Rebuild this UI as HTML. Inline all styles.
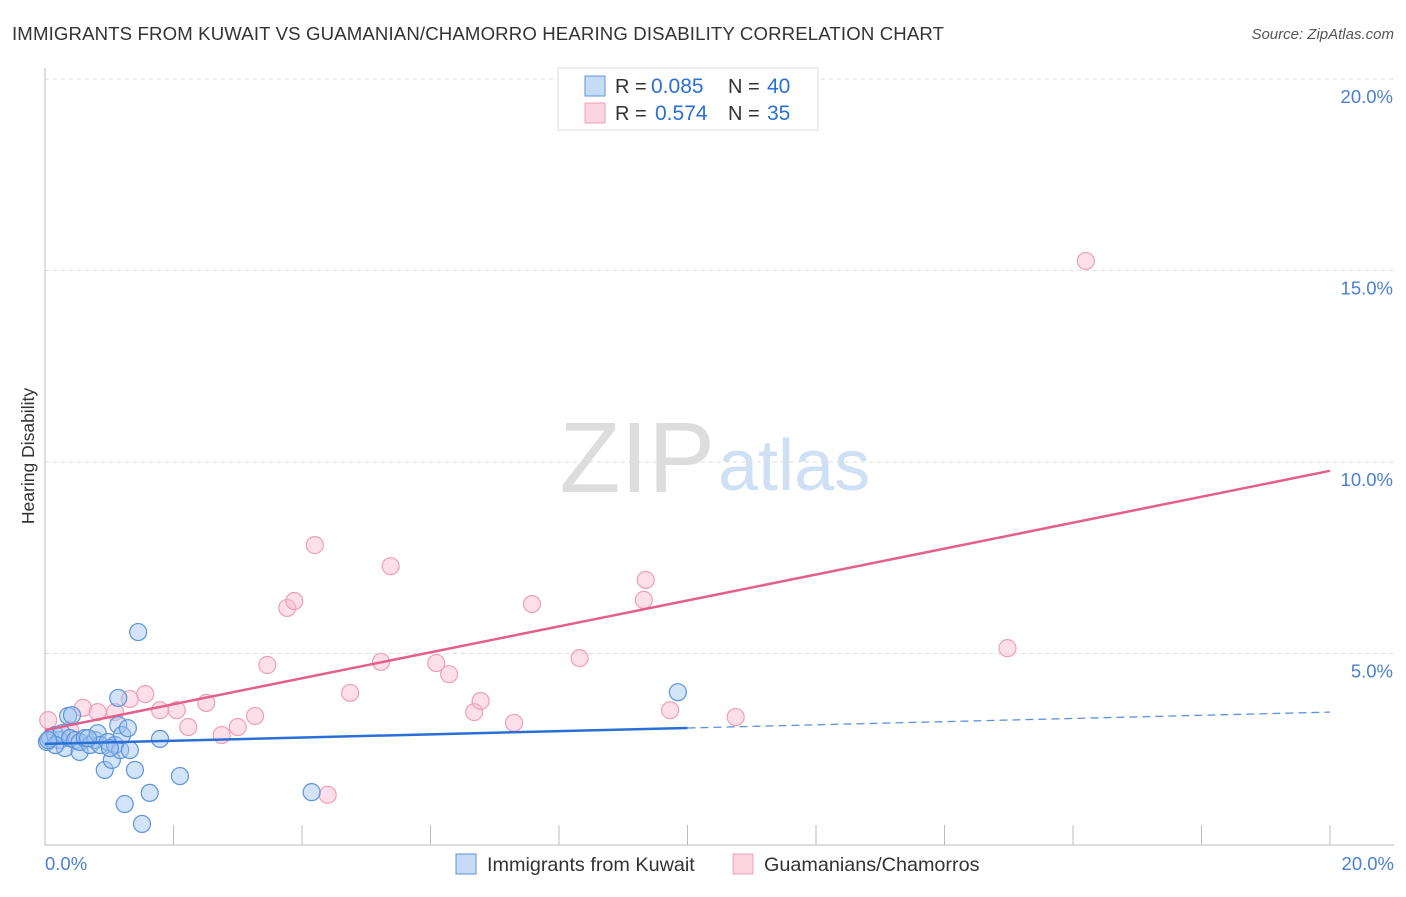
<!DOCTYPE html>
<html><head><meta charset="utf-8"><style>
body{margin:0;background:#fff;font-family:"Liberation Sans",sans-serif;}
svg text{font-family:"Liberation Sans",sans-serif;}
</style></head><body>
<svg id="c" width="1406" height="892"></svg>
<script>
const blueX=[0.03,0.08,0.16,0.23,0.31,0.26,0.36,0.42,0.39,0.47,0.54,0.54,0.62,0.70,0.78,0.82,0.86,0.93,0.98,1.04,1.09,1.14,1.14,1.17,1.20,1.24,1.29,1.32,1.40,1.45,1.51,1.63,1.79,2.10,4.15,9.85,0.16,0.67,1.01,0.05];
const blueY=[2.69,2.79,2.87,2.74,2.53,2.92,3.37,3.39,2.79,2.74,2.43,2.69,2.79,2.61,2.74,2.92,2.61,1.96,2.69,2.22,2.61,3.13,3.84,2.48,2.87,1.07,3.05,2.48,1.96,5.56,0.55,1.36,2.77,1.80,1.38,3.99,2.61,2.79,2.53,2.74];
const pinkX=[0.05,0.39,0.59,0.82,1.09,1.32,1.56,1.79,2.05,2.23,2.51,2.75,3.00,3.27,3.46,3.77,3.88,4.20,4.40,4.75,5.23,5.38,6.09,6.29,6.68,6.78,7.30,7.58,8.32,9.32,9.35,9.73,10.75,14.98,16.20];
const pinkY=[3.26,3.00,3.58,3.47,3.47,3.81,3.94,3.52,3.52,3.08,3.71,2.87,3.08,3.37,4.70,6.19,6.37,7.83,1.31,3.97,4.78,7.28,4.75,4.46,3.47,3.76,3.19,6.29,4.88,6.40,6.92,3.52,3.34,5.14,15.25];
const yTicks=[5,10,15,20];
const blueTrend=[2.64,3.47]; const pinkTrend=[3.0,9.77];
const X=v=>45+v/20*1285, Y=v=>845-v*38.3;
const s=document.getElementById('c');const NS='http://www.w3.org/2000/svg';
function el(t,a,txt){const e=document.createElementNS(NS,t);for(const k in a)e.setAttribute(k,a[k]);if(txt!==undefined)e.textContent=txt;s.appendChild(e);return e;}
let e;
e=el('text',{x:12,y:40,'font-size':18.6,fill:'#333',textLength:932});
e.textContent='IMMIGRANTS FROM KUWAIT VS GUAMANIAN/CHAMORRO HEARING DISABILITY CORRELATION CHART';


e=el('text',{x:1394,y:39,'font-size':15,fill:'#555','font-style':'italic','text-anchor':'end'},'Source: ZipAtlas.com');


e=el('text',{x:715,y:492,'font-size':100,fill:'#ddd','font-family':'Liberation Serif','text-anchor':'end'},'ZIP');


e=el('text',{x:718,y:490,'font-size':72,fill:'#cfe0f5'},'atlas');


yTicks.forEach(t=>{
 e=el('line',{x1:45,x2:1394,y1:Y(t),y2:Y(t),stroke:'#ddd','stroke-dasharray':'4,4'});
 
 
 e=el('text',{x:1393,y:Y(t)+24,'font-size':18.5,fill:'#4a7fd4','text-anchor':'end'},t.toFixed(1)+'%');
 
 
});
e=el('line',{x1:45,x2:45,y1:68,y2:845,stroke:'#bbb'});


e=el('line',{x1:45,x2:1394,y1:845,y2:845,stroke:'#bbb'});


for(let i=0;i<=10;i++){e=el('line',{x1:X(i*2),x2:X(i*2),y1:825,y2:845,stroke:'#bbb'});
 
 }
e=el('text',{x:45,y:870,'font-size':18.5,fill:'#4a7fd4'},'0.0%');


e=el('text',{x:1394,y:870,'font-size':18.5,fill:'#4a7fd4','text-anchor':'end'},'20.0%');


e=el('text',{x:34,y:456,'font-size':17.5,fill:'#333','text-anchor':'middle',transform:'rotate(-90 34 456)'},'Hearing Disability');


pinkX.forEach((v,i)=>{e=el('circle',{cx:X(v),cy:Y(pinkY[i]),r:8.5,fill:'rgba(248,183,204,0.45)',stroke:'#eea0b8','stroke-width':1.2});
 
 });
blueX.forEach((v,i)=>{e=el('circle',{cx:X(v),cy:Y(blueY[i]),r:8.5,fill:'rgba(160,196,240,0.45)',stroke:'#5b93dc','stroke-width':1.2});
 
 });
const bm=blueTrend[0]+(blueTrend[1]-blueTrend[0])*(10/20);
e=el('line',{x1:X(0),y1:Y(blueTrend[0]),x2:X(10),y2:Y(bm),stroke:'#2a6fd6','stroke-width':2.5});


e=el('line',{x1:X(10),y1:Y(bm),x2:X(20),y2:Y(blueTrend[1]),stroke:'#5b93dc','stroke-width':1.3,'stroke-dasharray':'8,5'});


e=el('line',{x1:X(0),y1:Y(pinkTrend[0]),x2:X(20),y2:Y(pinkTrend[1]),stroke:'#e4608c','stroke-width':2.5});


e=el('rect',{x:558,y:68,width:260,height:62,fill:'#fff',stroke:'#ddd'});


[['rgba(160,196,240,0.6)','#5b93dc','0.085','40',86,651],['rgba(248,183,204,0.6)','#eea0b8','0.574','35',113,655]].forEach(r=>{
 e=el('rect',{x:585,y:r[4]-10,width:20,height:20,fill:r[0],stroke:r[1]});
 
 
 e=el('text',{x:615,y:r[4]+7,'font-size':20,fill:'#333'},'R = ');
 
 
 e=el('text',{x:r[5],y:r[4]+7,'font-size':21,fill:'#2a6fd6'},r[2]);
 
 
 e=el('text',{x:728,y:r[4]+7,'font-size':20,fill:'#333'},'N = ');
 
 
 e=el('text',{x:767,y:r[4]+7,'font-size':21,fill:'#2a6fd6'},r[3]);
 
 
});
[[456,'rgba(160,196,240,0.6)','#5b93dc','Immigrants from Kuwait'],[733,'rgba(248,183,204,0.6)','#eea0b8','Guamanians/Chamorros']].forEach(r=>{
 e=el('rect',{x:r[0],y:854,width:20,height:20,fill:r[1],stroke:r[2]});
 
 
 e=el('text',{x:r[0]+31,y:871,'font-size':19.8,fill:'#333'},r[3]);
 
 
});
</script>
</body></html>
